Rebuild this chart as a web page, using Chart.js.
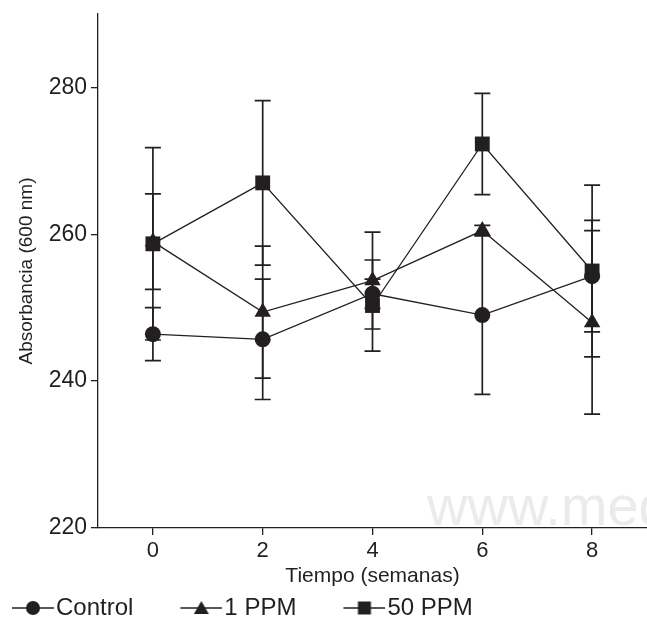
<!DOCTYPE html>
<html>
<head>
<meta charset="utf-8">
<script src="https://cdn.jsdelivr.net/npm/chart.js@4.4.0/dist/chart.umd.min.js"></script>
<style>
  html, body { margin: 0; padding: 0; background: #fff; }
  #wrap { width: 647px; height: 622px; }
</style>
</head>
<body>
<div id="wrap"><canvas id="chart"></canvas></div>
<script>
// Datos
const weeks = [0, 2, 4, 6, 8];
const yTicks = [220, 240, 260, 280];
const seriesNames = ['Control', '1 PPM', '50 PPM'];

const control = [246.4, 245.7, 251.9, 249.0, 254.3];
const controlErr = [3.6, 8.2, 2.0, 10.8, 7.6];

const ppm1 = [259.0, 249.4, 253.7, 260.5, 248.0];
const ppm1Err = [6.5, 9.0, 6.6, 0.7, 12.5];

const ppm50 = [258.7, 267.0, 250.3, 272.3, 255.0];
const ppm50Err = [13.1, 11.2, 6.2, 6.9, 11.7];

const watermark = 'www.med';

const ink = '#231f20';
const family = '"Liberation Sans", Arial, Helvetica, sans-serif';

function toPoints(values) {
    return weeks.map((w, i) => ({ x: w, y: values[i] }));
}

// Muestra de leyenda: línea con el marcador en medio (pegada a la derecha del lienzo)
function legendSample(style) {
    const c = document.createElement('canvas');
    c.width = 95;
    c.height = 20;
    const g = c.getContext('2d');
    const x0 = 53;
    const cx = x0 + 21;
    g.strokeStyle = ink;
    g.fillStyle = ink;
    g.lineWidth = 1.5;
    g.beginPath();
    g.moveTo(x0, 10);
    g.lineTo(x0 + 42, 10);
    g.stroke();
    g.beginPath();
    if (style === 'circle') {
        g.arc(cx, 10, 7, 0, Math.PI * 2);
    } else if (style === 'triangle') {
        g.moveTo(cx, 3);
        g.lineTo(cx + 7.5, 16);
        g.lineTo(cx - 7.5, 16);
        g.closePath();
    } else {
        g.rect(cx - 6.5, 3.5, 13, 13);
    }
    g.fill();
    return c;
}

const errorBars = {
    id: 'errorBars',
    beforeDatasetsDraw(chart) {
        const { ctx, scales: { x, y } } = chart;
        ctx.save();
        ctx.strokeStyle = ink;
        ctx.lineWidth = 1.7;
        chart.data.datasets.forEach(ds => {
            ds.data.forEach((p, i) => {
                const px = x.getPixelForValue(p.x);
                const top = y.getPixelForValue(p.y + ds.errors[i]);
                const bot = y.getPixelForValue(p.y - ds.errors[i]);
                ctx.beginPath();
                ctx.moveTo(px, top);
                ctx.lineTo(px, bot);
                ctx.moveTo(px - 8, top);
                ctx.lineTo(px + 8, top);
                ctx.moveTo(px - 8, bot);
                ctx.lineTo(px + 8, bot);
                ctx.stroke();
            });
        });
        ctx.restore();
    }
};

const backgroundText = {
    id: 'backgroundText',
    beforeDraw(chart) {
        const ctx = chart.ctx;
        ctx.save();
        ctx.fillStyle = '#fff';
        ctx.fillRect(0, 0, chart.width, chart.height);
        ctx.fillStyle = '#ebebeb';
        ctx.font = '56px ' + family;
        ctx.textBaseline = 'alphabetic';
        ctx.fillText(watermark, 427, 525);
        ctx.restore();
    },
    afterLayout(chart) {
        // mover la leyenda a la izquierda y un poco hacia abajo
        const lg = chart.legend;
        lg.left -= 35;
        lg.right -= 35;
        lg.top += 8;
        lg.bottom += 8;
    }
};

function noPadding(s) {
    s.paddingLeft = 0;
    s.paddingRight = 0;
    s.paddingTop = 0;
    s.paddingBottom = 0;
}

const styles = ['circle', 'triangle', 'rect'];
const radii = [8, 9.5, 10.5];
const values = [control, ppm1, ppm50];
const errors = [controlErr, ppm1Err, ppm50Err];

const datasets = seriesNames.map((name, k) => ({
    label: name,
    data: toPoints(values[k]),
    errors: errors[k],
    borderColor: ink,
    backgroundColor: ink,
    borderWidth: 1.3,
    pointStyle: styles[k],
    pointRadius: radii[k],
    pointBorderWidth: 0,
    pointBackgroundColor: ink,
    tension: 0
}));

const ctx = document.getElementById('chart').getContext('2d');
const chart = new Chart(ctx, {
    type: 'line',
    data: { datasets: datasets },
    options: {
        responsive: true,
        maintainAspectRatio: false,
        animation: false,
        devicePixelRatio: 1,
        layout: { autoPadding: false, padding: { top: 14, right: 0, bottom: 0, left: 0 } },
        plugins: {
            tooltip: { enabled: false },
            legend: {
                position: 'bottom',
                align: 'start',
                labels: {
                    usePointStyle: true,
                    pointStyleWidth: 75,
                    padding: 4,
                    color: ink,
                    font: { size: 24, family: family },
                    generateLabels: () => seriesNames.map((name, k) => ({
                        text: name,
                        pointStyle: legendSample(styles[k]),
                        fillStyle: ink,
                        strokeStyle: ink,
                        lineWidth: 0,
                        fontColor: ink,
                        datasetIndex: k
                    }))
                }
            }
        },
        scales: {
            x: {
                type: 'linear',
                min: -1,
                max: 9,
                afterBuildTicks: s => { s.ticks = weeks.map(v => ({ value: v })); },
                afterFit: s => { s.height = 56; noPadding(s); },
                grid: { drawOnChartArea: false, drawTicks: true, tickLength: 7, color: ink, lineWidth: 1.3 },
                border: { display: true, color: ink, width: 1.3 },
                ticks: { color: ink, padding: 3, font: { size: 22, family: family } },
                title: {
                    display: true,
                    text: 'Tiempo (semanas)',
                    color: ink,
                    font: { size: 21, family: family },
                    padding: { top: 0, bottom: -5 }
                }
            },
            y: {
                min: 220,
                max: 290,
                afterBuildTicks: s => { s.ticks = yTicks.map(v => ({ value: v })); },
                afterFit: s => { s.width = 98; noPadding(s); },
                grid: { drawOnChartArea: false, drawTicks: true, tickLength: 7, color: ink, lineWidth: 1.3 },
                border: { display: true, color: ink, width: 1.3 },
                ticks: { color: ink, padding: 4, font: { size: 23, family: family } },
                title: {
                    display: true,
                    text: 'Absorbancia (600 nm)',
                    color: ink,
                    font: { size: 19, family: family },
                    padding: { top: 15, bottom: 0 }
                }
            }
        }
    },
    plugins: [backgroundText, errorBars]
});
</script>
</body>
</html>
